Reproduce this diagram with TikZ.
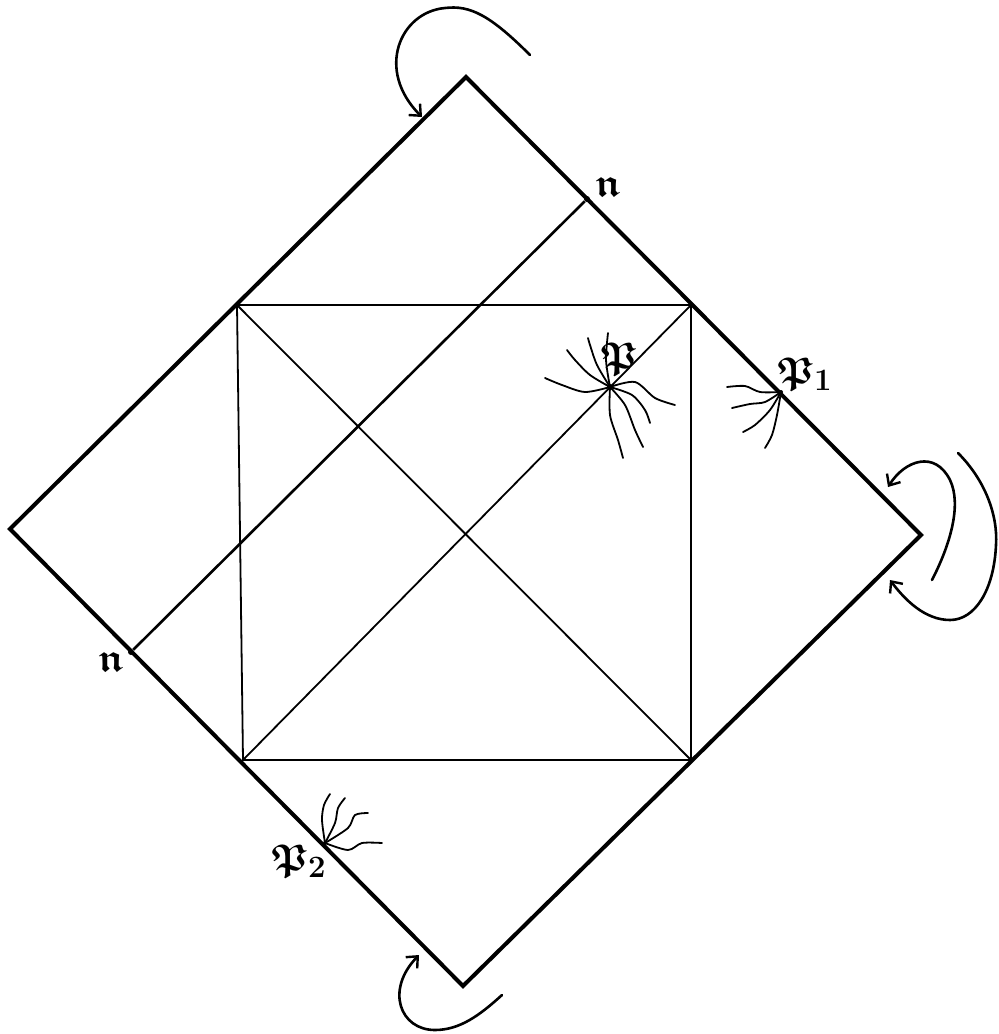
\documentclass[tikz,border=0pt]{standalone}
\usepackage{amsmath,amssymb}
\usetikzlibrary{arrows.meta}

\begin{document}
\begin{tikzpicture}[
  x=1pt, y=-1pt,
  outer/.style={line width=4pt, line join=miter},
  inner/.style={line width=1.8pt},
  cut/.style={line width=2.6pt},
  hair/.style={line width=1.8pt, line cap=round},
  curl/.style={line width=2.6pt, line cap=round, -{Straight Barb[length=9pt,width=16pt,line width=2.4pt]}},
  spot/.style={circle, fill=black, inner sep=0pt, minimum size=6pt},
  lab/.style={font=\Huge, inner sep=1pt}
]
\useasboundingbox (0,0) rectangle (999,1034);

% vertices of the big square
\coordinate (top) at (466,77);
\coordinate (right) at (921,535);
\coordinate (bottom) at (463,986);
\coordinate (left) at (10,529);

% inner square
\coordinate (sqtl) at (237,305);
\coordinate (sqtr) at (691,305);
\coordinate (sqbr) at (691,760);
\coordinate (sqbl) at (243,760);

\draw[outer] (top) -- (right) -- (bottom) -- (left) -- cycle;
\draw[inner] (sqtl) -- (sqtr) -- (sqbr) -- (sqbl) -- cycle;
\draw[inner] (sqtl) -- (sqbr);
\draw[inner] (sqtr) -- (sqbl);

% the line n -- n
\node[spot] (nA) at (587,199) {};
\node[spot] (nB) at (131,652) {};
\draw[cut] (nA) -- (nB);
\node[lab] (nAlab) at (609,187) {\scalebox{1.6}{$\boldsymbol{\mathfrak{n}}$}};
\node[lab] (nBlab) at (112,662) {\scalebox{1.6}{$\boldsymbol{\mathfrak{n}}$}};

% points P, P_1, P_2
\node[spot] (pt) at (610,387) {};
\node[spot, minimum size=4pt] (pone) at (781,392) {};
\node[spot, minimum size=4pt] (ptwo) at (325,843) {};
\node[lab] (ptlab) at (619,359) {\scalebox{1.5}{$\boldsymbol{\mathfrak{P}}$}};
\node[lab] (ponelab) at (805,374) {\scalebox{1.5}{$\boldsymbol{\mathfrak{P}_1}$}};
\node[lab] (ptwolab) at (299,861) {\scalebox{1.5}{$\boldsymbol{\mathfrak{P}_2}$}};

% hairs round P
\draw[hair] plot[smooth] coordinates {(610,387) (585,392) (562,385) (545,378)};
\draw[hair] plot[smooth] coordinates {(610,387) (590,375) (575,360) (567,350)};
\draw[hair] plot[smooth] coordinates {(610,387) (597,365) (590,345) (588,338)};
\draw[hair] plot[smooth] coordinates {(610,387) (606,360) (608,333)};
\draw[hair] plot[smooth] coordinates {(610,387) (635,382) (655,398) (675,405)};
\draw[hair] plot[smooth] coordinates {(610,387) (632,395) (645,410) (650,423)};
\draw[hair] plot[smooth] coordinates {(610,387) (625,405) (635,430) (643,447)};
\draw[hair] plot[smooth] coordinates {(610,387) (610,415) (618,440) (623,458)};

% hairs at P_1
\draw[hair] plot[smooth] coordinates {(781,392) (760,392) (745,386) (727,387)};
\draw[hair] plot[smooth] coordinates {(781,392) (765,402) (750,404) (732,408)};
\draw[hair] plot[smooth] coordinates {(781,392) (770,410) (755,425) (743,432)};
\draw[hair] plot[smooth] coordinates {(781,392) (777,415) (772,435) (765,448)};

% hairs at P_2
\draw[hair] plot[smooth] coordinates {(325,843) (322,820) (324,805) (330,794)};
\draw[hair] plot[smooth] coordinates {(325,843) (335,823) (338,808) (345,798)};
\draw[hair] plot[smooth] coordinates {(325,843) (348,828) (355,815) (368,813)};
\draw[hair] plot[smooth] coordinates {(325,843) (348,850) (362,843) (382,843)};

% turning arrows
\coordinate (topfrom) at (530,55);
\coordinate (topto) at (422,117);
\draw[curl] (topfrom) .. controls (490,15) and (470,5) .. (445,8)
  .. controls (400,12) and (375,70) .. (topto);

\coordinate (rgtfromA) at (932,580);
\coordinate (rgttoA) at (888,487);
\draw[curl] (rgtfromA) .. controls (950,545) and (962,505) .. (950,480)
  .. controls (935,450) and (905,460) .. (rgttoA);

\coordinate (rgtfromB) at (958,453);
\coordinate (rgttoB) at (890,580);
\draw[curl] (rgtfromB) .. controls (985,480) and (998,515) .. (996,545)
  .. controls (994,590) and (975,620) .. (950,620)
  .. controls (925,620) and (905,600) .. (rgttoB);

\coordinate (botfrom) at (502,995);
\coordinate (botto) at (419,955);
\draw[curl] (botfrom) .. controls (480,1015) and (460,1030) .. (435,1030)
  .. controls (400,1030) and (385,990) .. (botto);

\end{tikzpicture}
\end{document}
